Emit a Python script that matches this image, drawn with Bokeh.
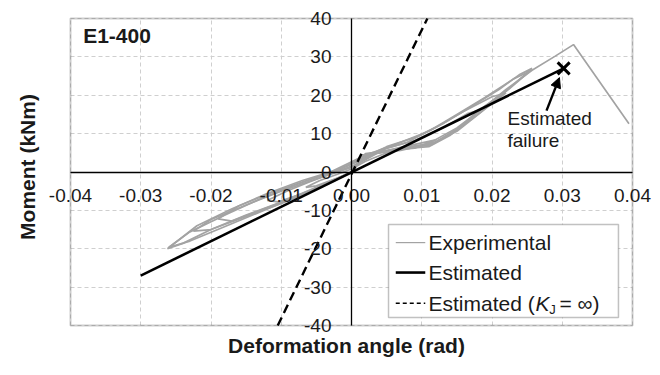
from bokeh.plotting import figure
from bokeh.models import (Range1d, LinearAxis, FixedTicker, PrintfTickFormatter, Grid,
                          Label, Arrow, NormalHead, BoxAnnotation)
from bokeh.embed import file_html
from bokeh.resources import INLINE

# ---------------- data ----------------
x_ticks = [-0.04, -0.03, -0.02, -0.01, 0.0, 0.01, 0.02, 0.03, 0.04]
y_ticks = [-40, -30, -20, -10, 0, 10, 20, 30, 40]

# experimental hysteresis cycles (rad, kNm)
cyc1_x = [0, 0.0015, 0.003, 0.0065, 0.005, 0.002, 0, -0.002, -0.0045, -0.0065, -0.005, -0.002, 0]
cyc1_y = [0, 3.4, 4.8, 5.8, 5.0, 2.8, 0.8, -0.6, -2.2, -4.0, -3.6, -1.6, 0]
cyc2_x = [0, 0.0015, 0.004, 0.009, 0.012, 0.0105, 0.007, 0.004, 0.001, -0.002, -0.006, -0.009, -0.012, -0.0105, -0.007, -0.003, 0]
cyc2_y = [0, 3.6, 5.4, 6.2, 8.4, 7.8, 6.4, 5.2, 2.2, 0.2, -2.6, -4.8, -7.4, -7.8, -5.6, -2.6, 0]
cyc3_x = [0, 0.0015, 0.006, 0.011, 0.014, 0.016, 0.018, 0.0165, 0.013, 0.009, 0.005, 0.002, -0.002, -0.007, -0.012, -0.016, -0.019, -0.017, -0.013, -0.008, -0.004, 0]
cyc3_y = [0, 4.0, 5.8, 6.6, 9.5, 12.5, 16.0, 15.2, 11.5, 8.2, 6.2, 3.6, 0.4, -2.6, -5.8, -8.8, -12.2, -12.8, -10.0, -6.6, -3.4, 0]
cyc4_x = [0, 0.0015, 0.007, 0.0115, 0.015, 0.018, 0.021, 0.0235, 0.0257, 0.024, 0.021, 0.017, 0.013, 0.009, 0.005, 0.002, -0.002, -0.007, -0.012, -0.017, -0.022, -0.0262, -0.024, -0.02, -0.015, -0.01, -0.005, 0]
cyc4_y = [0, 4.4, 6.0, 7.2, 11.0, 15.0, 19.5, 23.5, 27.0, 25.5, 21.5, 17.0, 12.6, 9.0, 6.6, 4.0, 0.6, -2.2, -5.6, -9.6, -14.0, -20.0, -18.6, -15.0, -11.2, -7.8, -4.0, 0]
cyc5_x = [0, 0.002, 0.007, 0.012, 0.016, 0.019, 0.022, 0.0255, 0.023, 0.019, 0.015, 0.011, 0.006, 0.002, -0.003, -0.008, -0.013, -0.018, -0.023, -0.026, -0.023, -0.018, -0.013, -0.008, -0.003, 0]
cyc5_y = [0, 4.6, 5.6, 7.8, 12.4, 17.2, 21.0, 26.4, 24.2, 19.4, 15.0, 10.6, 7.0, 4.4, 0.0, -3.4, -7.0, -11.2, -15.6, -19.6, -18.0, -14.2, -10.4, -6.6, -2.8, 0]
cyc6_x = [0, 0.002, 0.006, 0.011, 0.015, 0.019, 0.022, 0.02, 0.016, 0.012, 0.008, 0.004, 0, -0.005, -0.01, -0.015, -0.02, -0.0225, -0.02, -0.015, -0.01, -0.005, 0]
cyc6_y = [0, 4.8, 5.8, 7.0, 10.6, 16.4, 20.6, 19.6, 15.8, 11.6, 7.8, 5.6, 1.2, -1.8, -5.0, -8.6, -12.4, -15.4, -15.0, -11.6, -8.2, -4.6, 0]
final_x = [0, 0.0015, 0.007, 0.011, 0.015, 0.019, 0.022, 0.0257, 0.029, 0.0316, 0.0395]
final_y = [0, 4.2, 6.2, 7.4, 11.5, 17.0, 21.5, 26.5, 30.2, 33.2, 12.6]

# estimated relation
est_x = [-0.030, 0.0302]
est_y = [-27.0, 27.0]
# estimated with infinite joint stiffness
kinf_x = [-0.0105, 0.0108]
kinf_y = [-40.0, 40.0]
# estimated failure point
fail_x = [0.0302]
fail_y = [27.0]

FONT = "Liberation Sans"
TXT = "#1a1a1a"

# ---------------- layout geometry (pixels) ----------------
W, H = 652, 359
BL, BB = 40, 26                 # side panels holding the axis titles
AREA_L, AREA_R, AREA_T, AREA_B = 70, 632, 18, 325   # visible plot box inside the canvas
xmin, xmax = x_ticks[0], x_ticks[-1]
ymin, ymax = y_ticks[0], y_ticks[-1]
xpp = (xmax - xmin) / (AREA_R - AREA_L)
ypp = (ymax - ymin) / (AREA_B - AREA_T)
x_range = Range1d(xmin - (AREA_L - BL) * xpp, xmax + (W - AREA_R) * xpp)
y_range = Range1d(ymin - (H - BB - AREA_B) * ypp, ymax + AREA_T * ypp)

p = figure(width=W, height=H, x_range=x_range, y_range=y_range,
           output_backend="svg", toolbar_location=None,
           x_axis_location=None, y_axis_location=None,
           min_border_left=BL, min_border_right=0, min_border_top=0, min_border_bottom=BB)
p.outline_line_color = None
p.background_fill_color = "white"
p.border_fill_color = "white"

# dashed grid limited to the plot box
p.center = [r for r in p.center if not isinstance(r, Grid)]
has_cross = "cross_bounds" in Grid.properties()
for dim, ticks, cb in ((0, x_ticks, (ymin, ymax)), (1, y_ticks, (xmin, xmax))):
    kw = dict(dimension=dim, ticker=FixedTicker(ticks=ticks), bounds=(ticks[0], ticks[-1]),
              grid_line_color="#cfcfcf", grid_line_dash="4 3", grid_line_width=1)
    if has_cross:
        kw["cross_bounds"] = cb
    p.add_layout(Grid(**kw))
if not has_cross:
    p.segment(x0=x_ticks, y0=[ymin] * len(x_ticks), x1=x_ticks, y1=[ymax] * len(x_ticks),
              line_color="#cfcfcf", line_dash="4 3", line_width=1, level="underlay")
    p.segment(x0=[xmin] * len(y_ticks), y0=y_ticks, x1=[xmax] * len(y_ticks), y1=y_ticks,
              line_color="#cfcfcf", line_dash="4 3", line_width=1, level="underlay")

# plot box border
p.add_layout(BoxAnnotation(left=xmin, right=xmax, bottom=ymin, top=ymax, fill_alpha=0,
                           line_color="#5a5a5a", line_width=2, level="underlay"))

# axes crossing at origin
xa = LinearAxis(fixed_location=0, ticker=FixedTicker(ticks=x_ticks), bounds=(xmin, xmax),
                formatter=PrintfTickFormatter(format="%.2f"),
                major_tick_in=0, major_tick_out=0, major_label_standoff=17,
                major_label_text_font=FONT, major_label_text_font_size="19px",
                major_label_text_color=TXT, axis_line_color="black", axis_line_width=1.3)
ya = LinearAxis(fixed_location=0, ticker=FixedTicker(ticks=y_ticks), bounds=(ymin, ymax),
                formatter=PrintfTickFormatter(format="%d"),
                major_tick_in=0, major_tick_out=0, major_label_standoff=20,
                major_label_text_font=FONT, major_label_text_font_size="19px",
                major_label_text_color=TXT, axis_line_color="black", axis_line_width=1.3)
p.add_layout(xa, "below")
p.add_layout(ya, "left")

# axis titles on outer, tick-less axes
xl = LinearAxis(ticker=FixedTicker(ticks=[]), axis_line_color=None, major_tick_out=0,
                axis_label="Deformation angle (rad)", axis_label_standoff=0,
                axis_label_text_font=FONT, axis_label_text_font_size="21px",
                axis_label_text_font_style="bold", axis_label_text_color=TXT)
yl = LinearAxis(ticker=FixedTicker(ticks=[]), axis_line_color=None, major_tick_out=0,
                axis_label="Moment (kNm)", axis_label_standoff=2,
                axis_label_text_font=FONT, axis_label_text_font_size="21px",
                axis_label_text_font_style="bold", axis_label_text_color=TXT)
p.add_layout(xl, "below")
p.add_layout(yl, "left")

# data
p.multi_line(xs=[cyc1_x, cyc2_x, cyc3_x, cyc4_x, cyc5_x, cyc6_x, final_x],
             ys=[cyc1_y, cyc2_y, cyc3_y, cyc4_y, cyc5_y, cyc6_y, final_y],
             line_color="#a3a3a3", line_width=1.7)
p.line(kinf_x, kinf_y, line_color="black", line_width=2.4, line_dash="9 5")
p.line(est_x, est_y, line_color="black", line_width=2.6)
p.scatter(fail_x, fail_y, marker="x", size=17, line_width=3, line_color="black")

p.add_layout(Arrow(end=NormalHead(size=10, fill_color="black", line_color="black"),
                   x_start=0.02776, y_start=16.0, x_end=0.0296, y_end=24.6,
                   line_width=2.4, line_color="black"))
p.add_layout(Label(x=0.0222, y=11.3, text="Estimated", text_font=FONT,
                   text_font_size="19px", text_color=TXT))
p.add_layout(Label(x=0.0222, y=5.5, text="failure", text_font=FONT,
                   text_font_size="19px", text_color=TXT))
p.add_layout(Label(x=-0.0382, y=32.7, text="E1-400", text_font=FONT,
                   text_font_size="21px", text_font_style="bold", text_color=TXT))

# legend (manual, to allow italic K with subscript J)
p.add_layout(BoxAnnotation(left=0.00527, right=0.038, top=-13.7, bottom=-37.9,
                           fill_color="white", fill_alpha=1.0,
                           line_color="#333333", line_width=1.5))
lx0, lx1, tx = 0.0063, 0.0105, 0.01096
rows = [-18.4, -26.2, -34.2]
p.line([lx0, lx1], [rows[0], rows[0]], line_color="#a3a3a3", line_width=1.2, level="overlay")
p.line([lx0, lx1], [rows[1], rows[1]], line_color="black", line_width=2.6, level="overlay")
p.line([lx0, lx1], [rows[2], rows[2]], line_color="black", line_width=1.6, line_dash="4 3", level="overlay")
for yv, t in ((rows[0], "Experimental"), (rows[1], "Estimated"), (rows[2], "Estimated (")):
    p.add_layout(Label(x=tx, y=yv, text=t, text_font=FONT, text_font_size="21px",
                       text_baseline="middle", text_color=TXT, level="overlay"))
p.add_layout(Label(x=0.02620, y=rows[2], text="K", text_font=FONT, text_font_size="21px",
                   text_font_style="italic", text_baseline="middle", text_color=TXT, level="overlay"))
p.add_layout(Label(x=0.02815, y=-35.9, text="J", text_font=FONT, text_font_size="13px",
                   text_baseline="middle", text_color=TXT, level="overlay"))
p.add_layout(Label(x=0.02960, y=rows[2], text="= \u221e)", text_font=FONT, text_font_size="21px",
                   text_baseline="middle", text_color=TXT, level="overlay"))

open("out.html", "w").write(file_html(p, INLINE))
